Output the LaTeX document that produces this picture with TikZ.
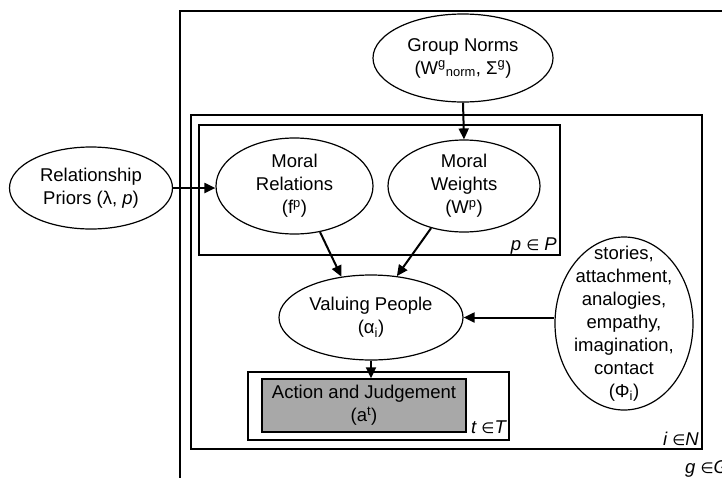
\documentclass[tikz,border=0pt]{standalone}
\usepackage{fontspec}
\setmainfont{Liberation Sans}
\newfontfamily\djv{DejaVu Sans}
\usetikzlibrary{arrows.meta,shapes.geometric}
\newcommand{\elt}{{\djv\upshape\fontsize{15}{15}\selectfont ∈}}
\begin{document}
\begin{tikzpicture}[x=1pt,y=-1pt,
  font=\fontsize{18.5}{23}\selectfont,
  plate/.style={draw, line width=1.7pt},
  ell/.style={draw, ellipse, line width=1.2pt, align=center, inner sep=-40pt},
  arr/.style={-{Triangle[length=11pt,width=10pt]}, line width=2pt},
  lab/.style={font=\fontsize{18.5}{20}\selectfont\itshape, inner sep=0pt, anchor=base east}]
\useasboundingbox (0,0) rectangle (722,477);
\clip (0,0) rectangle (722,477);
% plates
\draw[plate] (180,11) rectangle (760,520);
\draw[plate] (191,115) rectangle (702,449);
\draw[plate] (199,125) rectangle (560,255);
\draw[plate] (248,372) rectangle (509,440);
% nodes
\node[ell, minimum width=180pt, minimum height=88pt] (gn) at (463,58) {Group Norms\\(W\textsuperscript{g}\textsubscript{norm}, Σ\textsuperscript{g})};
\node[ell, minimum width=163pt, minimum height=82pt] (rp) at (91,188) {Relationship\\Priors (λ, \textit{p})};
\node[ell, minimum width=157pt, minimum height=96pt] (mr) at (294.5,186) {Moral\\Relations\\(f\textsuperscript{p})};
\node[ell, minimum width=152pt, minimum height=92pt] (mw) at (464,186) {Moral\\Weights\\(W\textsuperscript{p})};
\node[ell, minimum width=184pt, minimum height=85pt] (vp) at (371,317.5) {Valuing People\\(α\textsubscript{i})};
\node[ell, minimum width=138pt, minimum height=173pt] (phi) at (624,323.5) {stories,\\attachment,\\analogies,\\empathy,\\imagination,\\contact\\(Φ\textsubscript{i})};
\node[draw, line width=1.4pt, fill=black!34, minimum width=204pt, minimum height=53pt, align=center, inner sep=0pt] (act) at (364,405.5) {Action and Judgement\\(a\textsuperscript{t})};
% labels
\node[lab] (lp) at (557,250) {p \elt\ P};
\node[lab] (ln) at (699,445) {i \elt N};
\node[lab] (lt) at (506,433) {t \elt T};
\node[lab, anchor=base west] (lg) at (685,473) {g \elt G};
% arrows
\draw[arr] (gn.south) -- (mw.north);
\draw[arr] (rp.east) -- (rp.east -| mr.west);
\draw[arr] (mr.-61) -- (vp.126);
\draw[arr] (mw.232) -- (vp.58);
\draw[arr] (vp.east -| phi.west) -- (vp.east);
\draw[arr] (vp.south) -- (vp.south |- act.north);
\end{tikzpicture}
\end{document}
